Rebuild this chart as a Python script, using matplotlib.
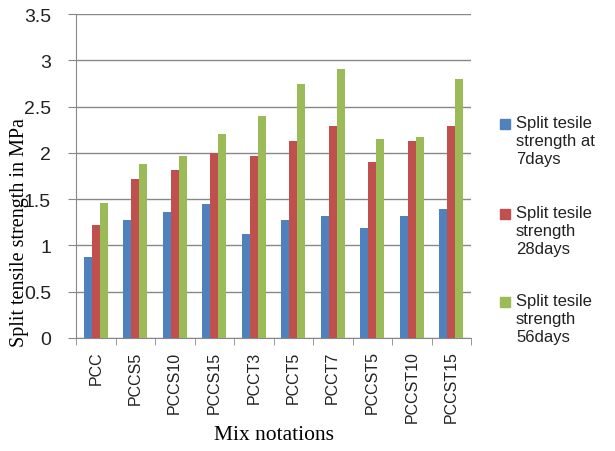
import matplotlib
matplotlib.use("Agg")
import matplotlib.pyplot as plt
from matplotlib.patches import Rectangle
import numpy as np

mixes = ["PCC", "PCCS5", "PCCS10", "PCCS15", "PCCT3", "PCCT5", "PCCT7",
         "PCCST5", "PCCST10", "PCCST15"]
days7 = [0.88, 1.27, 1.36, 1.45, 1.12, 1.27, 1.32, 1.19, 1.32, 1.39]
days28 = [1.22, 1.72, 1.82, 2.00, 1.97, 2.13, 2.29, 1.90, 2.13, 2.29]
days56 = [1.46, 1.88, 1.97, 2.20, 2.40, 2.74, 2.91, 2.15, 2.17, 2.80]
labels = ["Split tesile\nstrength at\n7days", "Split tesile\nstrength\n28days",
          "Split tesile\nstrength\n56days"]
colors = ["#4F81BD", "#C0504D", "#9BBB59"]

W, H = 615, 452
fig = plt.figure(figsize=(W / 100, H / 100), dpi=100)
ax = fig.add_axes([76 / W, 1 - 339 / H, 395 / W, 324 / H])

x = np.arange(len(mixes))
w = 0.2
for i, vals in enumerate([days7, days28, days56]):
    ax.bar(x + (i - 1) * w, vals, w, color=colors[i], label=labels[i], zorder=3)

ax.set_ylim(0, 3.5)
ax.set_xlim(-0.5, len(mixes) - 0.5)
ax.set_yticks(np.arange(0, 3.51, 0.5))
ax.set_yticklabels(["0", "0.5", "1", "1.5", "2", "2.5", "3", "3.5"],
                   fontsize=14, family="Liberation Sans", color="#222222")
ax.yaxis.grid(True, color="#888888", linewidth=1, zorder=0)
ax.tick_params(axis="y", length=6, color="#888888", pad=12)

ax.set_xticks(x)
ax.set_xticklabels(mixes, rotation=90, fontsize=11.5, family="Liberation Sans",
                   color="#222222")
ax.set_xticks(np.arange(-0.5, len(mixes), 1), minor=True)
ax.tick_params(axis="x", which="major", length=0, pad=9)
ax.tick_params(axis="x", which="minor", length=5, color="#888888")

for s in ["top", "right"]:
    ax.spines[s].set_visible(False)
ax.spines["left"].set_color("#888888")
ax.spines["bottom"].set_color("#888888")

# the y label sits over the tick numbers, as in the source chart
ax.set_ylabel("Split tensile strength in MPa", fontsize=14.5, family="Liberation Serif")
ax.yaxis.set_label_coords(-0.12, 0.33)
ax.set_xlabel("Mix notations", fontsize=15.5, family="Liberation Serif", labelpad=2)

# legend drawn by hand: square beside the first line of each entry
tops = [125, 215, 303]
for lab, col, ty in zip(labels, colors, tops):
    fig.add_artist(Rectangle((500 / W, 1 - (ty + 5) / H), 10 / W, 10 / H,
                             transform=fig.transFigure, color=col))
    fig.text(516 / W, 1 - (ty - 9) / H, lab, fontsize=12, family="Liberation Sans",
             va="top", ha="left", linespacing=1.25, color="#222222")

fig.savefig("out.png", dpi=100)
